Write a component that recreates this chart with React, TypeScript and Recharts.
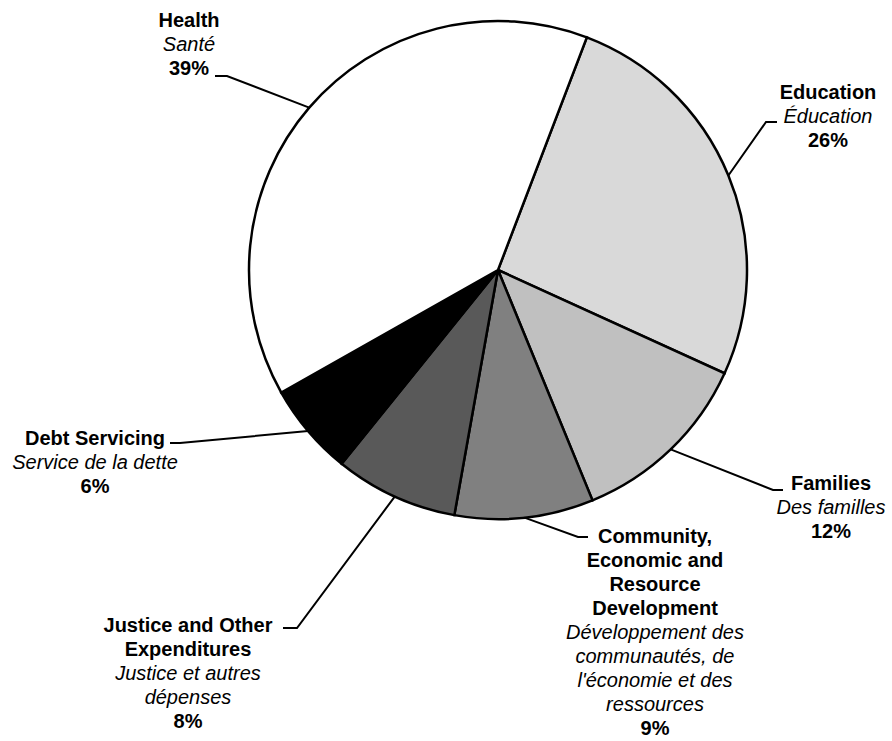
import { Cell, Pie, PieChart } from "recharts";

const names = ["Education", "Families", "Community", "Justice", "Debt", "Health"];
const shares = [26, 12, 9, 8, 6, 39];
const englishLines = [
  ["Education"],
  ["Families"],
  ["Community,", "Economic and", "Resource", "Development"],
  ["Justice and Other", "Expenditures"],
  ["Debt Servicing"],
  ["Health"],
];
const frenchLines = [
  ["Éducation"],
  ["Des familles"],
  ["Développement des", "communautés, de", "l'économie et des", "ressources"],
  ["Justice et autres", "dépenses"],
  ["Service de la dette"],
  ["Santé"],
];
const sliceColors = ["#d9d9d9", "#c0c0c0", "#808080", "#595959", "#000000", "#ffffff"];

// label placement, offsets from the pie centre
const labelLayout = [
  { elbow: [268, -148], stub: [279, -148], text: [330, -178] },
  { elbow: [275, 220], stub: [285, 220], text: [333, 213] },
  { elbow: [80, 267], stub: [90, 267], text: [157, 266] },
  { elbow: [-201, 358], stub: [-215, 358], text: [-310, 355] },
  { elbow: [-318, 173], stub: [-328, 173], text: [-403, 168] },
  { elbow: [-271, -194], stub: [-283, -194], text: [-309, -250] },
];

const data = names.map((name, i) => ({
  name,
  value: shares[i],
  en: englishLines[i],
  fr: frenchLines[i],
}));

const RADIAN = Math.PI / 180;
const LINE_H = 24;
const FONT = "'Liberation Sans', Arial, sans-serif";

function renderLabel(props: any) {
  const { cx, cy, midAngle, outerRadius, index, payload } = props;
  const lay = labelLayout[index];
  const sx = cx + outerRadius * Math.cos(-midAngle * RADIAN);
  const sy = cy + outerRadius * Math.sin(-midAngle * RADIAN);
  const ex = cx + lay.elbow[0];
  const ey = cy + lay.elbow[1];
  const tx = cx + lay.stub[0];
  const ty = cy + lay.stub[1];
  const lx = cx + lay.text[0];
  const ly = cy + lay.text[1];
  const rows: { t: string; bold: boolean; italic: boolean }[] = [
    ...payload.en.map((t: string) => ({ t, bold: true, italic: false })),
    ...payload.fr.map((t: string) => ({ t, bold: false, italic: true })),
    { t: `${payload.value}%`, bold: true, italic: false },
  ];
  return (
    <g key={`lbl-${index}`}>
      <polyline
        points={`${sx},${sy} ${ex},${ey} ${tx},${ty}`}
        fill="none"
        stroke="#000"
        strokeWidth={2}
      />
      <text textAnchor="middle" fontFamily={FONT} fontSize={20} fill="#000">
        {rows.map((r, k) => (
          <tspan
            key={k}
            x={lx}
            y={ly + k * LINE_H}
            dominantBaseline="central"
            fontWeight={r.bold ? "bold" : "normal"}
            fontStyle={r.italic ? "italic" : "normal"}
          >
            {r.t}
          </tspan>
        ))}
      </text>
    </g>
  );
}

export default function App() {
  return (
    <div style={{ position: "absolute", left: 0, top: 0, background: "#fff" }}>
      <PieChart width={892} height={741} margin={{ top: 0, right: 0, bottom: 0, left: 0 }}>
        <Pie
          data={data}
          dataKey="value"
          nameKey="name"
          cx={498}
          cy={270}
          outerRadius={249}
          startAngle={69.1}
          endAngle={-290.9}
          stroke="#000"
          strokeWidth={2.5}
          label={renderLabel}
          labelLine={false}
          isAnimationActive={false}
        >
          {data.map((d, i) => (
            <Cell key={d.name} fill={sliceColors[i]} />
          ))}
        </Pie>
      </PieChart>
    </div>
  );
}
